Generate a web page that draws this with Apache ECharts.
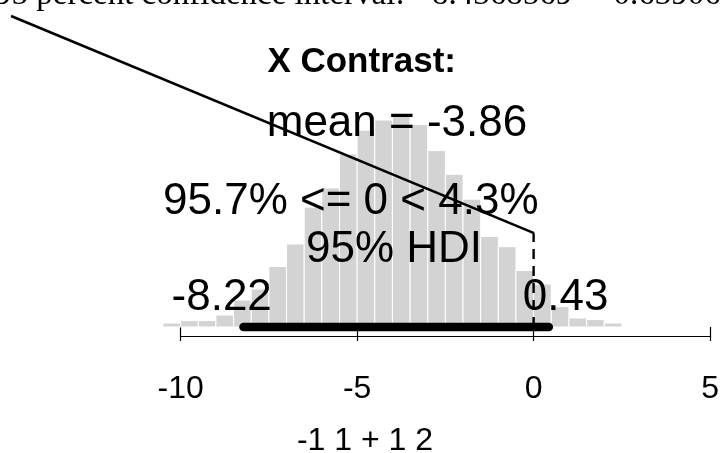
<!DOCTYPE html>
<html><head><meta charset="utf-8">
<script src="https://cdn.jsdelivr.net/npm/echarts@6/dist/echarts.min.js"></script>
<style>html,body{margin:0;padding:0;background:#fff}#c{width:722px;height:453px}</style>
</head><body><div id="c"></div>
<script>
// ---- data ----
const binStarts = [-10.5,-10,-9.5,-9,-8.5,-8,-7.5,-7,-6.5,-6,-5.5,-5,-4.5,-4,-3.5,-3,-2.5,-2,-1.5,-1,-0.5,0,0.5,1,1.5,2];
const binWidth = 0.5;
const densities = [0.0035,0.0057,0.0057,0.0106,0.0239,0.0336,0.0535,0.0734,0.106,0.123,0.153,0.174,0.183,0.187,0.179,0.156,0.135,0.113,0.080,0.071,0.050,0.038,0.018,0.008,0.0066,0.0035];
const tickValues = [-10,-5,0,5];
const tickLabels = ['-10','-5','0','5'];
const hdiLow = -8.22, hdiHigh = 0.43;
const meanValue = -3.86;
const compValue = 0;
const compLineHeight = 0.083;
const pctBelow = '95.7%', pctAbove = '4.3%';
const strayLineX = [-14.8, 0];
const strayLineY = [0.275, 0.083];
const titleText = 'X Contrast:';
const xLabelText = '-1 1 + 1 2';
const topText = '95 percent confidence interval:  -8.4368569     0.6390682';

// ---- layout ----
const W = 722, H = 453;
const gL = 163, gR = 11.3, gT = 100.8, gB = 116.5;
const xMin = -10.5, xMax = 5, yMin = -0.0084, yMax = 0.2;
const pxX = (W - gL - gR) / (xMax - xMin);
const pxY = (H - gT - gB) / (yMax - yMin);
// full-canvas overlay axes with the same scale (for marks that run outside the plot region)
const oxMin = xMin - gL / pxX, oxMax = xMax + gR / pxX;
const oyMin = yMin - gB / pxY, oyMax = yMax + gT / pxY;

const sans = "'Liberation Sans', Arial, sans-serif";
const chart = echarts.init(document.getElementById('c'), null, {renderer:'canvas'});
const txt = (x, y, text, font, align) => ({type:'text', x, y, z:50,
  style:{text, font, fill:'#000', textAlign:align || 'center', textVerticalAlign:'middle'}});
const option = {
  backgroundColor:'#ffffff',
  animation:false,
  grid:[
    {left:gL, right:gR, top:gT, bottom:gB, containLabel:false},
    {left:0, right:0, top:0, bottom:0, containLabel:false}
  ],
  xAxis:[
    {type:'value', gridIndex:0, min:xMin, max:xMax,
     axisLine:{show:false}, splitLine:{show:false},
     axisTick:{show:true, customValues:tickValues, length:14, lineStyle:{color:'#000', width:1.2}},
     axisLabel:{show:true, customValues:tickValues, fontSize:32, fontFamily:sans, color:'#000', margin:37,
       formatter:(v)=>tickLabels[tickValues.indexOf(v)] ?? String(v)}},
    {type:'value', gridIndex:1, min:oxMin, max:oxMax, show:false}
  ],
  yAxis:[
    {type:'value', gridIndex:0, min:yMin, max:yMax, show:false, splitLine:{show:false}},
    {type:'value', gridIndex:1, min:oyMin, max:oyMax, show:false, splitLine:{show:false}}
  ],
  series:[
    {type:'custom', name:'hist', z:1, xAxisIndex:0, yAxisIndex:0,
     data: binStarts.map((s,i)=>[s, s+binWidth, densities[i]]),
     encode:{x:[0,1], y:2},
     renderItem:(params, api)=>{
       const p0 = api.coord([api.value(0), api.value(2)]);
       const p1 = api.coord([api.value(1), 0]);
       return {type:'rect', shape:{x:p0[0], y:p0[1], width:p1[0]-p0[0], height:p1[1]-p0[1]},
         style:{fill:'#d3d3d3', stroke:'#ffffff', lineWidth:1}};
     }},
    {type:'line', name:'axis', z:60, data:[[tickValues[0], yMin],[tickValues[tickValues.length-1], yMin]],
     symbol:'none', clip:false, lineStyle:{color:'#000', width:1.2}},
    {type:'line', name:'hdi', z:60, data:[[hdiLow,0],[hdiHigh,0]], symbol:'none', clip:false,
     lineStyle:{color:'#000', width:8.5, cap:'round'}},
    {type:'line', name:'comp', z:60, data:[[compValue,0],[compValue,compLineHeight]], symbol:'none', clip:false,
     lineStyle:{color:'#000', width:2.4, type:[10,7]}},
    {type:'line', name:'stray', z:60, xAxisIndex:1, yAxisIndex:1,
     data:[[strayLineX[0],strayLineY[0]],[strayLineX[1],strayLineY[1]]], symbol:'none', clip:false,
     lineStyle:{color:'#000', width:2.5}}
  ],
  graphic:[
    txt(-5, -5, topText, "33px 'Liberation Serif', 'Times New Roman', serif", 'left'),
    txt(361.7, 62, titleText, "bold 35px " + sans),
    txt(397, 123.5, 'mean = ' + meanValue.toFixed(2), "44px " + sans),
    txt(163, 202, pctBelow + ' <= ' + compValue + ' < ' + pctAbove, "44px " + sans, 'left'),
    txt(394, 249.5, '95% HDI', "44px " + sans),
    txt(221.7, 298, hdiLow.toFixed(2), "44px " + sans),
    txt(565.6, 298, hdiHigh.toFixed(2), "44px " + sans),
    txt(365, 441, xLabelText, "32px " + sans)
  ]
};
chart.setOption(option);
</script>
</body></html>
